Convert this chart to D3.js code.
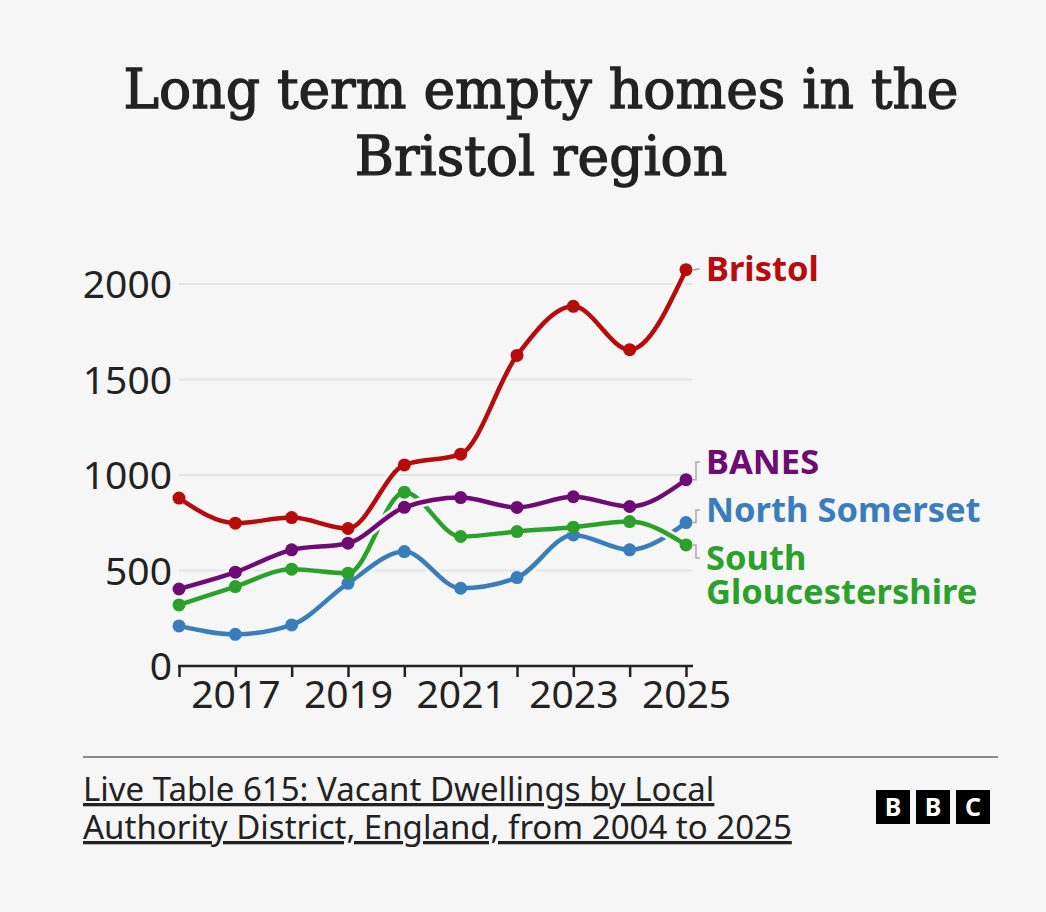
<!DOCTYPE html>
<html>
<head>
<meta charset="utf-8">
<script src="https://cdn.jsdelivr.net/npm/d3@7"></script>
<style>
  html, body { margin: 0; padding: 0; background: #f6f6f6; }
  svg { display: block; }
</style>
</head>
<body>
<svg id="chart" width="1046" height="912"></svg>
<script>
// data
var years = [2016, 2017, 2018, 2019, 2020, 2021, 2022, 2023, 2024, 2025]
var bristol = [879, 748, 777, 720, 1053, 1109, 1626, 1883, 1656, 2075]
var banes = [403, 491, 608, 643, 831, 882, 830, 886, 835, 975]
var northSomerset = [210, 166, 215, 433, 599, 407, 463, 686, 608, 751]
var southGlos = [320, 416, 507, 486, 910, 678, 704, 727, 756, 634]
var yTicks = [0, 500, 1000, 1500, 2000]
var xLabels = [2017, 2019, 2021, 2023, 2025]

// drawing order: blue under green under purple under red
var series = [
        { name: ['North Somerset'], values: northSomerset, color: '#3a7dbd', labelY: 510 },
        { name: ['South', 'Gloucestershire'], values: southGlos, color: '#2aa12a', labelY: 558 },
        { name: ['BANES'], values: banes, color: '#6d0c73', labelY: 462 },
        { name: ['Bristol'], values: bristol, color: '#b80b0b', labelY: 269 }
]

var bg = '#f6f6f6'
var svg = d3.select('#chart')
svg.append('rect').attr('width', 1046).attr('height', 912).attr('fill', bg)

var sans = "'Noto Sans', 'Open Sans', sans-serif"

// title (regular weight, thickened a little with a stroke)
var titleLines = ['Long term empty homes in the', 'Bristol region']
svg.append('g').selectAll('text')
        .data(titleLines)
        .enter()
        .append('text')
        .attr('x', 541)
        .attr('y', function (d, i) { return 108 + i * 67 })
        .attr('text-anchor', 'middle')
        .attr('font-family', "'DejaVu Serif', serif")
        .attr('font-size', 53.5)
        .attr('fill', '#222')
        .attr('stroke', '#222')
        .attr('stroke-width', 1.3)
        .text(function (d) { return d })

var x = d3.scaleLinear().domain([2016, 2025]).range([179, 686])
var y = d3.scaleLinear().domain([0, 2000]).range([666, 284])

// gridlines + y labels
var grid = svg.append('g')
grid.selectAll('line')
        .data(yTicks.slice(1))
        .enter()
        .append('line')
        .attr('x1', 179).attr('x2', 692)
        .attr('y1', function (d) { return y(d) })
        .attr('y2', function (d) { return y(d) })
        .attr('stroke', '#e4e4e4')
        .attr('stroke-width', 2)

grid.selectAll('text')
        .data(yTicks)
        .enter()
        .append('text')
        .attr('x', 172)
        .attr('y', function (d) { return y(d) })
        .attr('dy', '0.36em')
        .attr('text-anchor', 'end')
        .attr('font-family', sans)
        .attr('font-size', 39)
        .attr('fill', '#222')
        .text(function (d) { return d })

// x axis
var xAxis = svg.append('g')
        .attr('transform', 'translate(0,666)')
        .call(d3.axisBottom(x)
                .tickValues(years)
                .tickSize(11)
                .tickSizeOuter(0)
                .tickFormat(function (d) { return xLabels.indexOf(d) >= 0 ? d : '' }))
xAxis.select('.domain').remove()
xAxis.append('line')
        .attr('x1', 178).attr('x2', 693)
        .attr('stroke', '#222').attr('stroke-width', 2.5)
xAxis.selectAll('.tick line').attr('stroke', '#222').attr('stroke-width', 2.5)
xAxis.selectAll('.tick text')
        .attr('y', 14)
        .attr('font-family', sans)
        .attr('font-size', 39)
        .attr('fill', '#222')

// lines
var line = d3.line()
        .x(function (d, i) { return x(years[i]) })
        .y(function (d) { return y(d) })
        .curve(d3.curveMonotoneX)

var lines = svg.append('g')
series.forEach(function (s) {
        var g = lines.append('g')
        g.append('path')
                .attr('d', line(s.values))
                .attr('fill', 'none')
                .attr('stroke', bg)
                .attr('stroke-width', 10)
        g.append('path')
                .attr('d', line(s.values))
                .attr('fill', 'none')
                .attr('stroke', s.color)
                .attr('stroke-width', 4.5)
        g.selectAll('circle')
                .data(s.values)
                .enter()
                .append('circle')
                .attr('cx', function (d, i) { return x(years[i]) })
                .attr('cy', function (d) { return y(d) })
                .attr('r', 6.5)
                .attr('fill', s.color)
})

// labels with little connectors
var labels = svg.append('g')
series.forEach(function (s) {
        var last = s.values[s.values.length - 1]
        var py = y(last)
        labels.append('path')
                .attr('d', 'M' + (x(2025) + 7) + ',' + py + 'H696V' + s.labelY + 'H700')
                .attr('fill', 'none')
                .attr('stroke', '#aaa')
                .attr('stroke-width', 1.5)
        s.name.forEach(function (n, i) {
                labels.append('text')
                        .attr('x', 706)
                        .attr('y', s.labelY + i * 34)
                        .attr('dy', '0.35em')
                        .attr('font-family', sans)
                        .attr('font-weight', 'bold')
                        .attr('font-size', 34.5)
                        .attr('fill', s.color)
                        .text(n)
        })
})

// footer
svg.append('line')
        .attr('x1', 83).attr('x2', 998)
        .attr('y1', 757).attr('y2', 757)
        .attr('stroke', '#8a8a8a').attr('stroke-width', 2)

var sourceLines = ['Live Table 615: Vacant Dwellings by Local', 'Authority District, England, from 2004 to 2025']
svg.append('g').selectAll('text')
        .data(sourceLines)
        .enter()
        .append('text')
        .attr('x', 83)
        .attr('y', function (d, i) { return 801 + i * 38 })
        .attr('font-family', sans)
        .attr('font-size', 33)
        .attr('fill', '#222')
        .attr('text-decoration', 'underline')
        .text(function (d) { return d })

var logo = svg.append('g').attr('transform', 'translate(876,790)')
;['B', 'B', 'C'].forEach(function (c, i) {
        logo.append('rect')
                .attr('x', i * 40).attr('width', 34).attr('height', 34)
                .attr('fill', '#000')
        logo.append('text')
                .attr('x', i * 40 + 17).attr('y', 17)
                .attr('dy', '0.36em')
                .attr('text-anchor', 'middle')
                .attr('font-family', sans)
                .attr('font-weight', 'bold')
                .attr('font-size', 25)
                .attr('fill', '#fff')
                .text(c)
})
</script>
</body>
</html>
